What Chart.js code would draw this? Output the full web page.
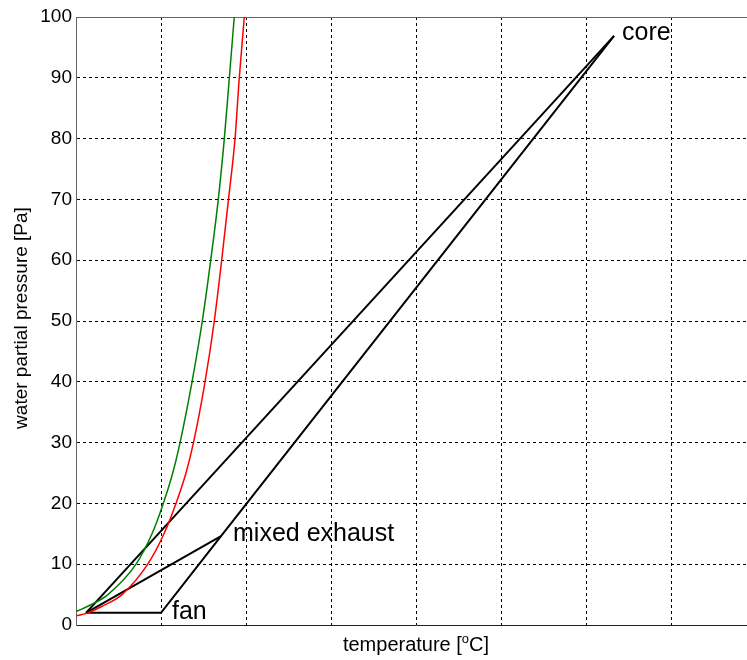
<!DOCTYPE html>
<html>
<head>
<meta charset="utf-8">
<script src="https://cdn.jsdelivr.net/npm/chart.js@4.4.0/dist/chart.umd.min.js"></script>
<style>
  html, body { margin: 0; padding: 0; background: #fff; overflow: hidden; }
  #wrap { width: 747px; height: 660px; overflow: hidden; }
</style>
</head>
<body>
<div id="wrap"><canvas id="myChart" width="760" height="660"></canvas></div>
<script>
// saturation curves (temperature in grid units, pressure in Pa)
const greenTemp = [0, 0.2, 0.376, 0.706, 0.894, 1.027, 1.138, 1.224, 1.365, 1.486, 1.585, 1.674, 1.745, 1.804, 1.862];
const greenPress = [2.2, 3.5, 5, 10, 15, 20, 25, 30, 40, 50, 60, 70, 80, 90, 100];
const redTemp = [0, 0.141, 0.294, 0.541, 0.844, 1.035, 1.176, 1.294, 1.382, 1.518, 1.627, 1.714, 1.794, 1.871, 1.921, 1.98];
const redPress = [1.5, 2, 3, 5, 10, 15, 20, 25, 30, 40, 50, 60, 70, 80, 90, 100];

// states: ambient, fan, mixed exhaust, core
const stateNames = ['', 'fan', 'mixed exhaust', 'core'];
const stateTemp = [0.118, 1.0, 1.706, 6.33];
const statePress = [2.0, 2.0, 14.6, 96.9];

// which states are joined by black lines
const paths = [[0, 1, 2, 3], [0, 3], [0, 2]];

const yTicks = [0, 10, 20, 30, 40, 50, 60, 70, 80, 90, 100];

const FONT = "'Liberation Sans', Arial, Helvetica, sans-serif";

const toPoints = (xs, ys) => xs.map((x, i) => ({ x: x, y: ys[i] }));

let datasets = [];
datasets.push({
  data: toPoints(greenTemp, greenPress),
  borderColor: '#008000', borderWidth: 1.5, pointRadius: 0,
  showLine: true, cubicInterpolationMode: 'monotone'
});
datasets.push({
  data: toPoints(redTemp, redPress),
  borderColor: '#ff0000', borderWidth: 1.5, pointRadius: 0,
  showLine: true, cubicInterpolationMode: 'monotone'
});
paths.forEach(p => {
  datasets.push({
    data: p.map(i => ({ x: stateTemp[i], y: statePress[i] })),
    borderColor: '#000', borderWidth: 2, pointRadius: 0,
    showLine: true, tension: 0
  });
});

const labelOffsets = [[0, 0], [11, -1], [12, -2], [8, -3]];

const textPlugin = {
  id: 'textPlugin',
  afterDraw(chart) {
    const ctx = chart.ctx;
    const xs = chart.scales.x, ys = chart.scales.y;
    const area = chart.chartArea;
    ctx.save();
    ctx.fillStyle = '#000';
    // state labels
    ctx.font = '25px ' + FONT;
    ctx.textAlign = 'left';
    ctx.textBaseline = 'middle';
    stateNames.forEach((name, i) => {
      if (!name) return;
      const px = xs.getPixelForValue(stateTemp[i]) + labelOffsets[i][0];
      const py = ys.getPixelForValue(statePress[i]) + labelOffsets[i][1];
      ctx.fillText(name, px, py);
    });

    // x title with superscript o
    const a = 'temperature [', c = 'C]';
    ctx.font = '20px ' + FONT;
    const wa = ctx.measureText(a).width, wc = ctx.measureText(c).width;
    ctx.font = '13px ' + FONT;
    const wo = ctx.measureText('o').width;
    const total = wa + wo + wc;
    let x0 = (area.left + area.right) / 2 - total / 2;
    const base = 651;
    ctx.textBaseline = 'alphabetic';
    ctx.font = '20px ' + FONT;
    ctx.fillText(a, x0, base);
    ctx.font = '13px ' + FONT;
    ctx.fillText('o', x0 + wa, base - 8);
    ctx.font = '20px ' + FONT;
    ctx.fillText(c, x0 + wa + wo, base);

    // y title
    ctx.translate(22, 318);
    ctx.rotate(-Math.PI / 2);
    ctx.textAlign = 'center';
    ctx.textBaseline = 'middle';
    ctx.font = '19px ' + FONT;
    ctx.fillText('water partial pressure [Pa]', 0, 0);
    ctx.restore();
  }
};

const ctx = document.getElementById('myChart');
const myChart = new Chart(ctx, {
  type: 'scatter',
  data: { datasets: datasets },
  options: {
    responsive: false,
    animation: false,
    events: [],
    layout: { padding: { left: 0, right: 4, top: 0, bottom: 0 } },
    plugins: { legend: { display: false }, tooltip: { enabled: false } },
    scales: {
      x: {
        type: 'linear', position: 'bottom', min: 0, max: 8,
        ticks: { display: false, stepSize: 1 },
        grid: { color: '#000', lineWidth: 1, drawTicks: false },
        border: { display: true, color: '#222', width: 1, dash: [3, 3] },
        afterFit: s => { s.height = 35; }
      },
      x2: {
        type: 'linear', position: 'top', min: 0, max: 8,
        ticks: { display: false },
        grid: { display: false, drawTicks: false },
        border: { display: true, color: '#666', width: 1 },
        afterFit: s => { s.height = 17; }
      },
      y: {
        type: 'linear', min: 0, max: 100,
        afterBuildTicks: s => { s.ticks = yTicks.map(v => ({ value: v })); },
        ticks: { color: '#000', padding: 4, font: { size: 19, family: FONT } },
        grid: { color: '#000', lineWidth: 1, drawTicks: false },
        border: { display: true, color: '#666', width: 1, dash: [3, 3] },
        afterFit: s => { s.width = 76; }
      }
    }
  },
  plugins: [textPlugin]
});
</script>
</body>
</html>
